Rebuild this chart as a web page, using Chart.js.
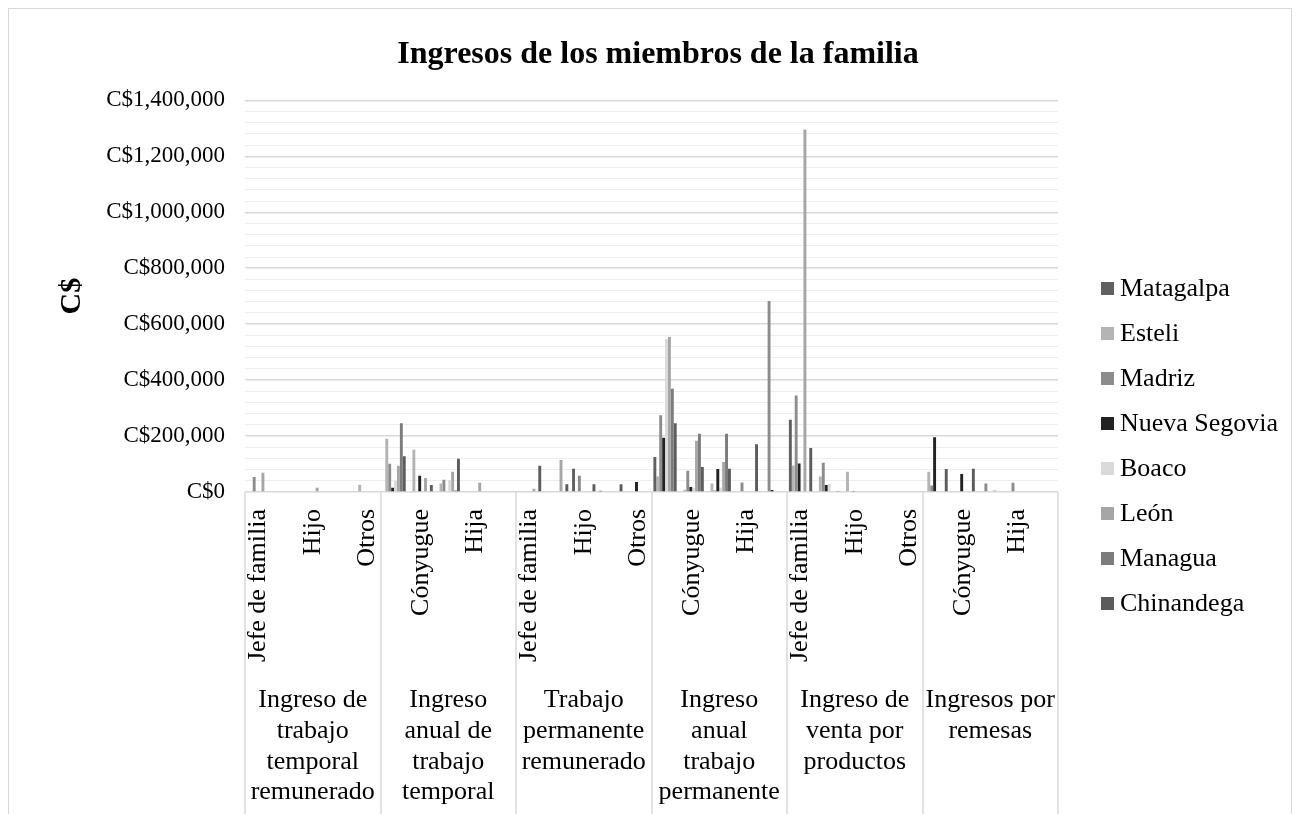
<!DOCTYPE html>
<html lang="es">
<head>
<meta charset="utf-8">
<title>Ingresos de los miembros de la familia</title>
<script src="https://cdn.jsdelivr.net/npm/chart.js@4.4.1/dist/chart.umd.min.js"></script>
<style>
  html, body { margin: 0; padding: 0; background: #fff; }
  body { width: 1299px; height: 814px; overflow: hidden; position: relative; font-family: "Liberation Serif", "Times New Roman", serif; }
  canvas { position: absolute; left: 0; top: 0; }
  #frame { position: absolute; left: 8px; top: 8px; width: 1282px; height: 840px; border: 1px solid #d9d9d9; pointer-events: none; }
  #legend { position: absolute; left: 0; top: 0; margin: 0; padding: 0; list-style: none; }
  #legend li { position: absolute; left: 1101px; height: 30px; line-height: 30px; font-size: 26px; color: #000; white-space: nowrap; display: flex; align-items: center; }
  #legend .box { display: inline-block; width: 13px; height: 13px; margin-right: 6px; }
</style>
</head>
<body>
<canvas id="chart" width="1299" height="814"></canvas>
<div id="frame"></div>
<ul id="legend"></ul>
<script>
  // categorías
  const subLabels = ["Jefe de familia", "Cónyugue", "Hijo", "Hija", "Otros"];
  const groupLabels = [
    ["Ingreso de", "trabajo", "temporal", "remunerado"],
    ["Ingreso", "anual de", "trabajo", "temporal"],
    ["Trabajo", "permanente", "remunerado"],
    ["Ingreso", "anual", "trabajo", "permanente"],
    ["Ingreso de", "venta por", "productos"],
    ["Ingresos por", "remesas"],
  ];
  const categories = groupLabels.flatMap(() => subLabels);

  const seriesNames = ["Matagalpa", "Esteli", "Madriz", "Nueva Segovia", "Boaco", "León", "Managua", "Chinandega"];

  // valores (C$), 5 miembros x 6 tipos de ingreso
  const matagalpa    = [0, 0, 0, 0, 0,   0, 0, 0, 0, 0,   0, 0, 83000, 4500, 0,   125000, 0, 0, 0, 0,   258000, 0, 0, 0, 0,   0, 0, 0, 0, 0];
  const esteli       = [0, 0, 0, 0, 26000,   190000, 151000, 30000, 0, 0,   0, 0, 0, 0, 0,   55000, 8000, 30000, 0, 0,   95000, 55000, 72000, 0, 0,   72000, 0, 0, 0, 0];
  const madriz       = [54000, 0, 0, 0, 0,   101000, 0, 44000, 0, 0,   0, 0, 58000, 0, 0,   274000, 76000, 5000, 34000, 683000,   345000, 105000, 0, 0, 0,   23000, 0, 30000, 33000, 0];
  const nuevaSegovia = [0, 0, 0, 0, 0,   15000, 58000, 0, 0, 0,   0, 0, 0, 0, 36000,   194000, 18000, 82000, 0, 7000,   102000, 25000, 4000, 0, 3000,   196000, 64000, 0, 0, 0];
  const boaco        = [0, 0, 0, 0, 0,   40000, 0, 42000, 3000, 0,   3000, 0, 0, 0, 0,   547000, 15000, 15000, 0, 0,   0, 29000, 0, 0, 0,   0, 0, 0, 0, 0];
  const leon         = [69000, 0, 15000, 0, 0,   94000, 50000, 72000, 33000, 0,   12000, 114000, 0, 0, 0,   554000, 183000, 107000, 0, 0,   1296000, 0, 0, 0, 0,   0, 0, 5000, 0, 0];
  const managua      = [0, 0, 0, 0, 0,   246000, 0, 5000, 0, 0,   0, 0, 0, 0, 0,   369000, 208000, 208000, 0, 0,   0, 0, 0, 0, 0,   0, 0, 0, 0, 0];
  const chinandega   = [0, 0, 0, 0, 0,   128000, 25000, 119000, 0, 0,   94000, 28000, 28000, 28000, 0,   246000, 89000, 83000, 171000, 0,   157000, 4000, 0, 0, 0,   82000, 83000, 0, 0, 0];

  const seriesValues = [matagalpa, esteli, madriz, nuevaSegovia, boaco, leon, managua, chinandega];
  const seriesColors = ["#606060", "#b4b4b4", "#8c8c8c", "#222222", "#dadada", "#a6a6a6", "#7c7c7c", "#5c5c5c"];

  const serif = "'Liberation Serif', 'Times New Roman', serif";
  Chart.defaults.font.family = serif;
  Chart.defaults.color = "#000";

  const formatCS = (v) => "C$" + v.toLocaleString("en-US");

  // líneas verticales que separan los grupos en el eje de categorías
  const groupLines = {
    id: "groupLines",
    afterDraw(chart) {
      const { ctx, chartArea } = chart;
      const x = chart.scales.x;
      const step = (x.right - x.left) / groupLabels.length;
      ctx.save();
      ctx.strokeStyle = "#d9d9d9";
      ctx.lineWidth = 1.5;
      for (let i = 0; i <= groupLabels.length; i++) {
        const px = Math.round(x.left + step * i);
        ctx.beginPath();
        ctx.moveTo(px, chartArea.bottom);
        ctx.lineTo(px, chart.height);
        ctx.stroke();
      }
      ctx.restore();
    },
  };

  new Chart(document.getElementById("chart").getContext("2d"), {
    type: "bar",
    data: {
      labels: categories,
      datasets: seriesNames.map((name, i) => ({
        label: name,
        data: seriesValues[i],
        backgroundColor: seriesColors[i],
        borderWidth: 0,
        categoryPercentage: 0.86,
        barPercentage: 1,
      })),
    },
    options: {
      responsive: false,
      animation: false,
      devicePixelRatio: 1,
      layout: { padding: { left: 17, right: 0, top: 0, bottom: 0 } },
      plugins: {
        legend: { display: false },
        tooltip: { enabled: false },
        title: {
          display: true,
          text: "Ingresos de los miembros de la familia",
          color: "#000",
          font: { family: serif, size: 32, weight: "bold" },
          padding: { top: 36, bottom: 26 },
        },
      },
      scales: {
        x: {
          type: "category",
          position: "bottom",
          weight: 0,
          grid: { display: false, drawTicks: false },
          border: { display: false },
          ticks: {
            autoSkip: false,
            minRotation: 90,
            maxRotation: 90,
            padding: 17,
            color: "#000",
            font: { family: serif, size: 26 },
            callback: function (value, index) {
              return index % 2 === 0 ? this.getLabelForValue(value) : "";
            },
          },
          afterFit: (scale) => { scale.height = 175; },
        },
        x2: {
          type: "category",
          labels: groupLabels,
          position: "bottom",
          weight: 1,
          offset: true,
          grid: { display: false, drawTicks: false },
          border: { display: false },
          ticks: {
            autoSkip: false,
            minRotation: 0,
            maxRotation: 0,
            padding: 18,
            color: "#000",
            font: { family: serif, size: 26, lineHeight: 1.18 },
          },
          afterFit: (scale) => { scale.height = 147; },
        },
        y: {
          min: 0,
          max: 1400000,
          grid: {
            drawTicks: false,
            color: (c) => (c.tick && c.tick.value % 200000 === 0 ? "#d9d9d9" : "#eeeeee"),
            lineWidth: (c) => (c.tick && c.tick.value % 200000 === 0 ? 1.5 : 1),
          },
          border: { display: false },
          ticks: {
            stepSize: 40000,
            maxTicksLimit: 100,
            autoSkip: false,
            padding: 20,
            color: "#000",
            font: { family: serif, size: 23 },
            callback: (v) => (v % 200000 === 0 ? formatCS(v) : ""),
          },
          title: {
            display: true,
            text: "C$",
            color: "#000",
            font: { family: serif, size: 30, weight: "bold" },
            padding: { top: 37, bottom: 0 },
          },
          afterFit: (scale) => { scale.width = 228; },
        },
        // espacio reservado a la derecha para la leyenda
        legendSpace: {
          type: "linear",
          position: "right",
          min: 0,
          max: 1,
          grid: { display: false, drawTicks: false },
          border: { display: false },
          ticks: { display: false },
          afterFit: (scale) => { scale.width = 241; },
        },
      },
    },
    plugins: [groupLines],
  });

  // leyenda
  const legend = document.getElementById("legend");
  seriesNames.forEach((name, i) => {
    const li = document.createElement("li");
    li.style.top = (288 + 45 * i - 15) + "px";
    li.innerHTML = `<span class="box" style="background:${seriesColors[i]}"></span>${name}`;
    legend.appendChild(li);
  });
</script>
</body>
</html>
